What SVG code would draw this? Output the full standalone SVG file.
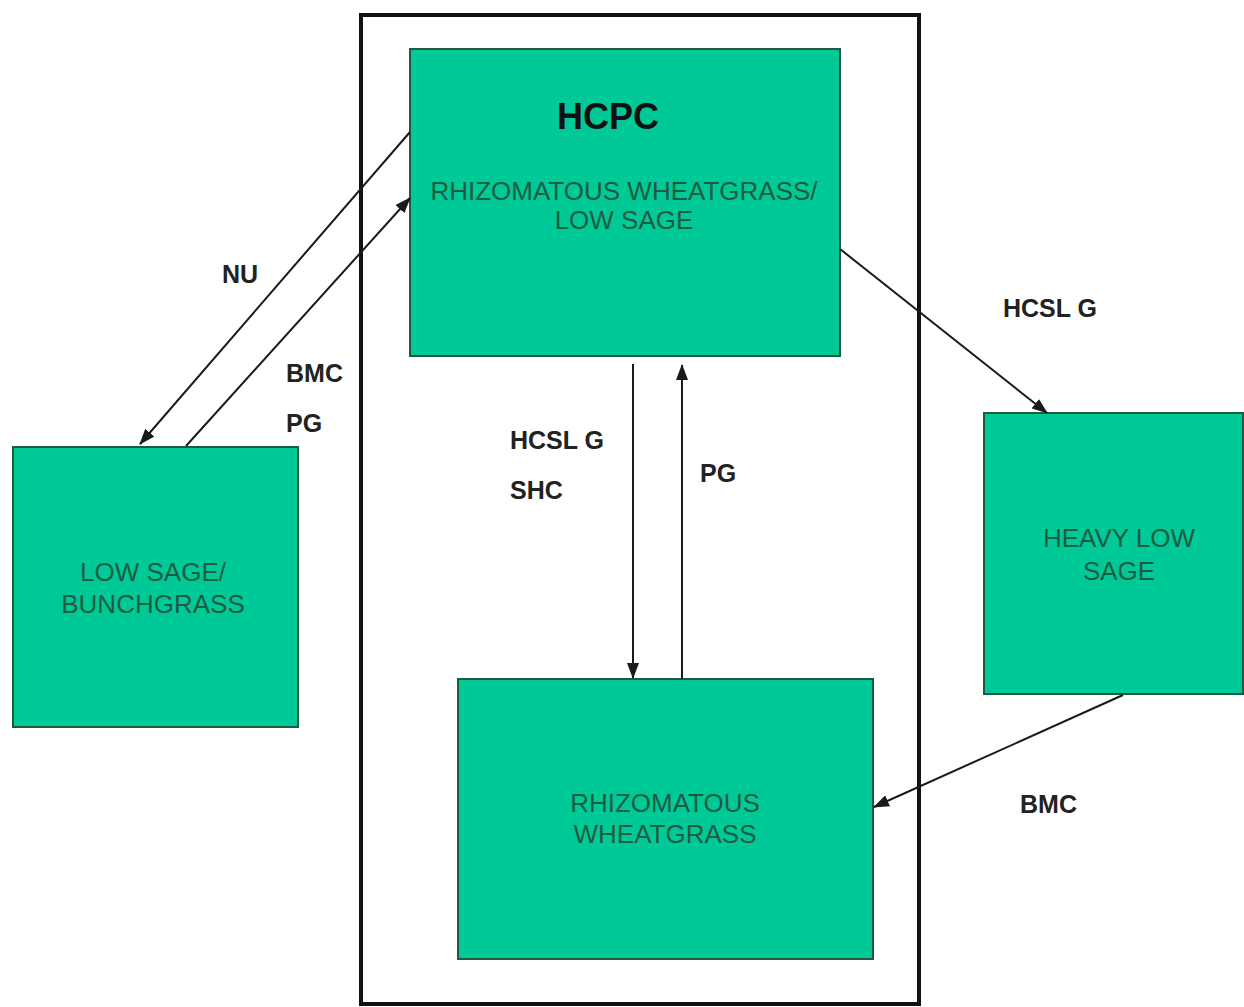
<svg xmlns="http://www.w3.org/2000/svg" width="1244" height="1007" viewBox="0 0 1244 1007">
<style>
.box{fill:#00C998;stroke:#1d5a40;stroke-width:2}
.bt{font-family:"Liberation Sans",Arial,sans-serif;font-size:26px;fill:#1c5c42;text-anchor:middle}
.lbl{font-family:"Liberation Sans",Arial,sans-serif;font-size:25px;font-weight:bold;fill:#222}
.con{stroke:#1a1a1a;stroke-width:2;fill:none;marker-end:url(#ah)}
</style>
<defs>
<marker id="ah" markerWidth="16" markerHeight="12" refX="15" refY="6" orient="auto" markerUnits="userSpaceOnUse">
<path d="M0,0 L16,6 L0,12 Z" fill="#1a1a1a"/>
</marker>
</defs>
<rect width="1244" height="1007" fill="#fff"/>
<rect id="frame" x="361" y="15" width="558" height="989" fill="none" stroke="#111" stroke-width="4"/>
<g id="hcpc">
<rect class="box" x="410" y="49" width="430" height="307"/>
<text x="608" y="129" font-family="'Liberation Sans',Arial,sans-serif" font-size="36" font-weight="bold" fill="#111" text-anchor="middle">HCPC</text>
<text class="bt" x="624" y="200">RHIZOMATOUS WHEATGRASS/</text>
<text class="bt" x="624" y="229">LOW SAGE</text>
</g>
<g id="lowsage">
<rect class="box" x="13" y="447" width="285" height="280"/>
<text class="bt" x="153" y="581">LOW SAGE/</text>
<text class="bt" x="153" y="613">BUNCHGRASS</text>
</g>
<g id="heavy">
<rect class="box" x="984" y="413" width="259" height="281"/>
<text class="bt" x="1119" y="547">HEAVY LOW</text>
<text class="bt" x="1119" y="580">SAGE</text>
</g>
<g id="rhizo">
<rect class="box" x="458" y="679" width="415" height="280"/>
<text class="bt" x="665" y="812">RHIZOMATOUS</text>
<text class="bt" x="665" y="843">WHEATGRASS</text>
</g>
<g id="connectors">
<line class="con" x1="410" y1="132" x2="140" y2="444"/>
<line class="con" x1="186" y1="446" x2="410" y2="198"/>
<line class="con" x1="840" y1="249" x2="1047" y2="413"/>
<line class="con" x1="633" y1="364" x2="633" y2="678"/>
<line class="con" x1="682" y1="679" x2="682" y2="365"/>
<line class="con" x1="1123" y1="695" x2="874" y2="807"/>
</g>
<g id="labels">
<text class="lbl" x="222" y="283">NU</text>
<text class="lbl" x="286" y="382">BMC</text>
<text class="lbl" x="286" y="432">PG</text>
<text class="lbl" x="1003" y="317">HCSL G</text>
<text class="lbl" x="510" y="449">HCSL G</text>
<text class="lbl" x="510" y="499">SHC</text>
<text class="lbl" x="700" y="482">PG</text>
<text class="lbl" x="1020" y="813">BMC</text>
</g>
</svg>
